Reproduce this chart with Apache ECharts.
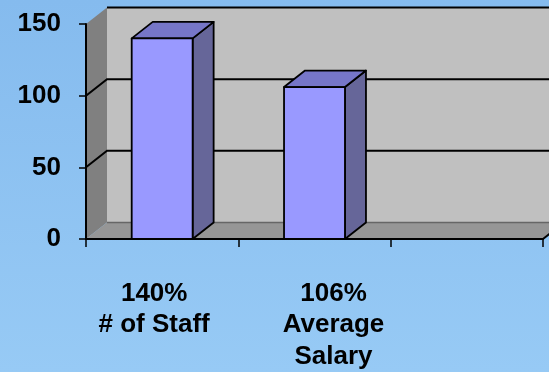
<!DOCTYPE html>
<html>
<head>
<meta charset="utf-8">
<script src="https://cdn.jsdelivr.net/npm/echarts@6/dist/echarts.min.js"></script>
<style>
  html, body { margin: 0; padding: 0; }
  #chart {
    width: 549px; height: 372px;
    background: linear-gradient(to bottom, #85bbee 0%, #97caf5 100%);
  }
</style>
</head>
<body>
<div id="chart"></div>
<script>
// Category names (shown under the floor) and the column heights
const categories = ['140%\n# of Staff', '106%\nAverage\nSalary', ''];
const values = [140, 106, null];
// Value axis settings
const yMin = 0, yMax = 150, yStep = 50;
const gridValues = [50, 100];

// Oblique projection of the chart depth
const DX = 21, DY = -16.5;
// Horizontal nudge of each category caption
const captionShift = [-8, 19, 0];

const FONT = 'bold 26px "Liberation Sans", Arial, sans-serif';

const chart = echarts.init(document.getElementById('chart'), null, { renderer: 'canvas' });

function renderBox(params, api) {
  const cs = params.coordSys;
  const x0 = cs.x, x1 = cs.x + cs.width;
  const yTop = cs.y, yBot = cs.y + cs.height;
  const children = [];
  // back wall
  children.push({
    type: 'polygon',
    shape: { points: [[x0 + DX, yTop + DY], [x1 + DX + 40, yTop + DY], [x1 + DX + 40, yBot + DY], [x0 + DX, yBot + DY]] },
    style: { fill: '#c0c0c0', stroke: null }
  });
  // left side wall
  children.push({
    type: 'polygon',
    shape: { points: [[x0, yBot], [x0, yTop], [x0 + DX, yTop + DY], [x0 + DX, yBot + DY]] },
    style: { fill: '#808080', stroke: null }
  });
  // floor
  children.push({
    type: 'polygon',
    shape: { points: [[x0, yBot], [x0 + DX, yBot + DY], [x1 + DX, yBot + DY], [x1, yBot]] },
    style: { fill: '#969696', stroke: null }
  });
  // back edge of floor
  children.push({
    type: 'line',
    shape: { x1: x0 + DX, y1: yBot + DY, x2: x1 + DX, y2: yBot + DY },
    style: { stroke: '#666666', lineWidth: 1.5 }
  });
  // right edge of floor
  children.push({
    type: 'line',
    shape: { x1: x1, y1: yBot, x2: x1 + DX, y2: yBot + DY },
    style: { stroke: '#000', lineWidth: 2 }
  });
  // top edge of back wall
  children.push({
    type: 'line',
    shape: { x1: x0 + DX, y1: yTop + DY, x2: x1 + DX + 40, y2: yTop + DY },
    style: { stroke: '#000', lineWidth: 2 }
  });
  // gridlines across side wall and back wall
  gridValues.forEach(function (v) {
    const y = api.coord([0, v])[1];
    children.push({
      type: 'polyline',
      shape: { points: [[x0, y], [x0 + DX, y + DY], [x1 + DX + 40, y + DY]] },
      style: { stroke: '#000', lineWidth: 2, fill: null }
    });
  });
  return { type: 'group', children: children };
}

function renderBar(params, api) {
  const idx = api.value(0);
  const v = api.value(1);
  if (v == null || isNaN(v)) return;
  const top = api.coord([idx, v]);
  const base = api.coord([idx, 0]);
  const w = api.size([1, 0])[0] * 0.4;
  const xl = top[0] - w / 2, xr = top[0] + w / 2;
  const yt = top[1], yb = base[1];
  const line = { stroke: '#000', lineWidth: 1.8, lineJoin: 'round' };
  return {
    type: 'group',
    children: [
      {
        type: 'polygon',
        shape: { points: [[xr, yt], [xr + DX, yt + DY], [xr + DX, yb + DY], [xr, yb]] },
        style: Object.assign({ fill: '#666699' }, line)
      },
      {
        type: 'polygon',
        shape: { points: [[xl, yt], [xl + DX, yt + DY], [xr + DX, yt + DY], [xr, yt]] },
        style: Object.assign({ fill: '#7676c8' }, line)
      },
      {
        type: 'rect',
        shape: { x: xl, y: yt, width: w, height: yb - yt },
        style: Object.assign({ fill: '#9999ff' }, line)
      }
    ]
  };
}

function renderCaption(params, api) {
  const idx = api.value(0);
  const text = categories[idx];
  if (!text) return;
  const p = api.coord([idx, 0]);
  return {
    type: 'text',
    x: p[0] + captionShift[idx],
    y: p[1] + 39,
    style: {
      text: text,
      font: FONT,
      fill: '#000',
      align: 'center',
      verticalAlign: 'top',
      lineHeight: 31.5
    }
  };
}

chart.setOption({
  backgroundColor: 'transparent',
  animation: false,
  grid: { left: 86, right: 6, top: 24, bottom: 133, containLabel: false },
  xAxis: {
    type: 'category',
    data: categories,
    boundaryGap: true,
    axisLine: { show: true, lineStyle: { color: '#000', width: 2 } },
    axisTick: { show: true, interval: 0, alignWithLabel: false, length: 8, lineStyle: { color: '#000', width: 1.5 } },
    axisLabel: { show: false },
    splitLine: { show: false }
  },
  yAxis: {
    type: 'value',
    min: yMin, max: yMax, interval: yStep,
    axisLine: { show: true, lineStyle: { color: '#000', width: 2 } },
    axisTick: { show: true, length: 7, lineStyle: { color: '#000', width: 1.5 } },
    axisLabel: {
      color: '#000', fontSize: 26, fontWeight: 'bold',
      fontFamily: '"Liberation Sans", Arial, sans-serif', margin: 25
    },
    splitLine: { show: false }
  },
  series: [
    {
      type: 'custom', name: 'box', z: -1, silent: true,
      renderItem: renderBox,
      data: [[0, 0]], encode: { x: 0, y: 1 }, clip: false
    },
    {
      type: 'custom', name: 'columns', z: 3,
      renderItem: renderBar,
      data: values.map(function (v, i) { return [i, v]; }),
      encode: { x: 0, y: 1 }, clip: false
    },
    {
      type: 'custom', name: 'captions', z: 3, silent: true,
      renderItem: renderCaption,
      data: categories.map(function (c, i) { return [i, 0]; }),
      encode: { x: 0, y: 1 }, clip: false
    }
  ]
});
</script>
</body>
</html>
